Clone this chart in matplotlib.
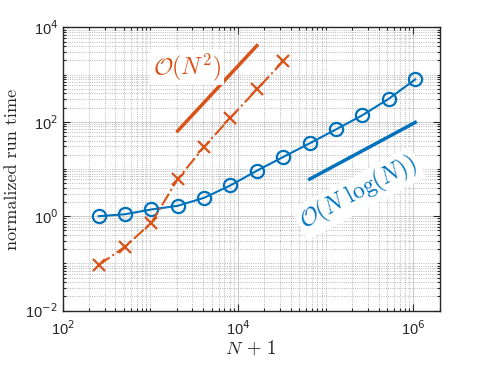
import numpy as np
import matplotlib
matplotlib.use("Agg")
import matplotlib.pyplot as plt
from matplotlib.ticker import FixedLocator, FuncFormatter, NullFormatter

# ---- data ----
n_plus_1 = [257, 513, 1025, 2049, 4097, 8193, 16385, 32769, 65537,
            131073, 262145, 524289, 1048577]
fft_time = [1.0, 1.1, 1.39, 1.66, 2.45, 4.5, 9.2, 18, 35, 69, 138, 308, 790]
direct_x = [257, 513, 1025, 2049, 4097, 8193, 16385, 32769]
direct_time = [0.092, 0.225, 0.72, 6.1, 29.5, 122, 485, 1930]

ref_n2_x = [2048, 16384]
ref_n2_y = [64, 4096]
ref_nlogn_x = [65536, 1048576]
ref_nlogn_y = [6.1, 97]

xticks = [1e2, 1e4, 1e6]
yticks = [1e-2, 1e0, 1e2, 1e4]

blue = "#0072BD"
orange = "#D95319"
dark = "#262626"

plt.rcParams["font.family"] = ["Liberation Sans", "DejaVu Sans"]
plt.rcParams["mathtext.fontset"] = "dejavusans"

fig = plt.figure(figsize=(4.86, 3.65), dpi=100)
ax = fig.add_axes([0.129, 0.149, 0.776, 0.776])
ax.set_xscale("log")
ax.set_yscale("log")
ax.set_xlim(1e2, 2e6)
ax.set_ylim(1e-2, 1e4)

# lines
ax.plot(n_plus_1, fft_time, "-o", color=blue, lw=1.5, ms=9.5, mew=1.6,
        mfc="none", zorder=3)
ax.plot(direct_x, direct_time, "-.x", color=orange, lw=1.5, ms=9, mew=1.6,
        zorder=3)
ax.plot(ref_n2_x, ref_n2_y, "-", color=orange, lw=2.5, zorder=3)
ax.plot(ref_nlogn_x, ref_nlogn_y, "-", color=blue, lw=2.5, zorder=3)

# ticks
def minor_locs(lo, hi):
    locs = []
    for e in range(lo, hi + 1):
        for m in range(1, 10):
            locs.append(m * 10.0 ** e)
    return locs

ax.xaxis.set_major_locator(FixedLocator(xticks))
ax.yaxis.set_major_locator(FixedLocator(yticks))
ax.xaxis.set_minor_locator(FixedLocator([v for v in minor_locs(2, 6) if v not in xticks]))
ax.yaxis.set_minor_locator(FixedLocator([v for v in minor_locs(-2, 4) if v not in yticks]))
fmt = FuncFormatter(lambda v, p: r"10$^{%d}$" % int(round(np.log10(v))))
ax.xaxis.set_major_formatter(fmt)
ax.yaxis.set_major_formatter(fmt)
ax.xaxis.set_minor_formatter(NullFormatter())
ax.yaxis.set_minor_formatter(NullFormatter())

ax.tick_params(which="both", direction="in", top=True, right=True,
               colors=dark, labelsize=10.5, width=0.8)
ax.tick_params(which="major", length=5)
ax.tick_params(which="minor", length=2.5)
ax.tick_params(axis="x", pad=6)
for s in ax.spines.values():
    s.set_color(dark)
    s.set_linewidth(1.0)

ax.grid(True, which="major", color="#b8b8b8", lw=0.7, ls="-", alpha=0.7)
ax.grid(True, which="minor", color="#8c8c8c", lw=0.6, ls=":", alpha=0.8)
ax.set_axisbelow(True)

ax.set_xlabel(r"$N\,+\,1$", fontsize=13.5, color=dark, math_fontfamily="cm", labelpad=1)
ax.set_ylabel("normalized run time", fontsize=13, color=dark,
              family="cmr10", labelpad=4)

ax.text(2630, 1450, r"$\mathcal{O}(N^2)$", color=orange, fontsize=17,
        math_fontfamily="cm", ha="center", va="center", zorder=5,
        bbox=dict(facecolor="white", edgecolor="none", pad=2))
ax.text(2.37e5, 3.08, r"$\mathcal{O}(N\;\log(N))$", color=blue, fontsize=17,
        math_fontfamily="cm", ha="center", va="center", rotation=28,
        rotation_mode="anchor", zorder=5,
        bbox=dict(facecolor="white", edgecolor="none", pad=2))

fig.savefig("out.png", dpi=100)
